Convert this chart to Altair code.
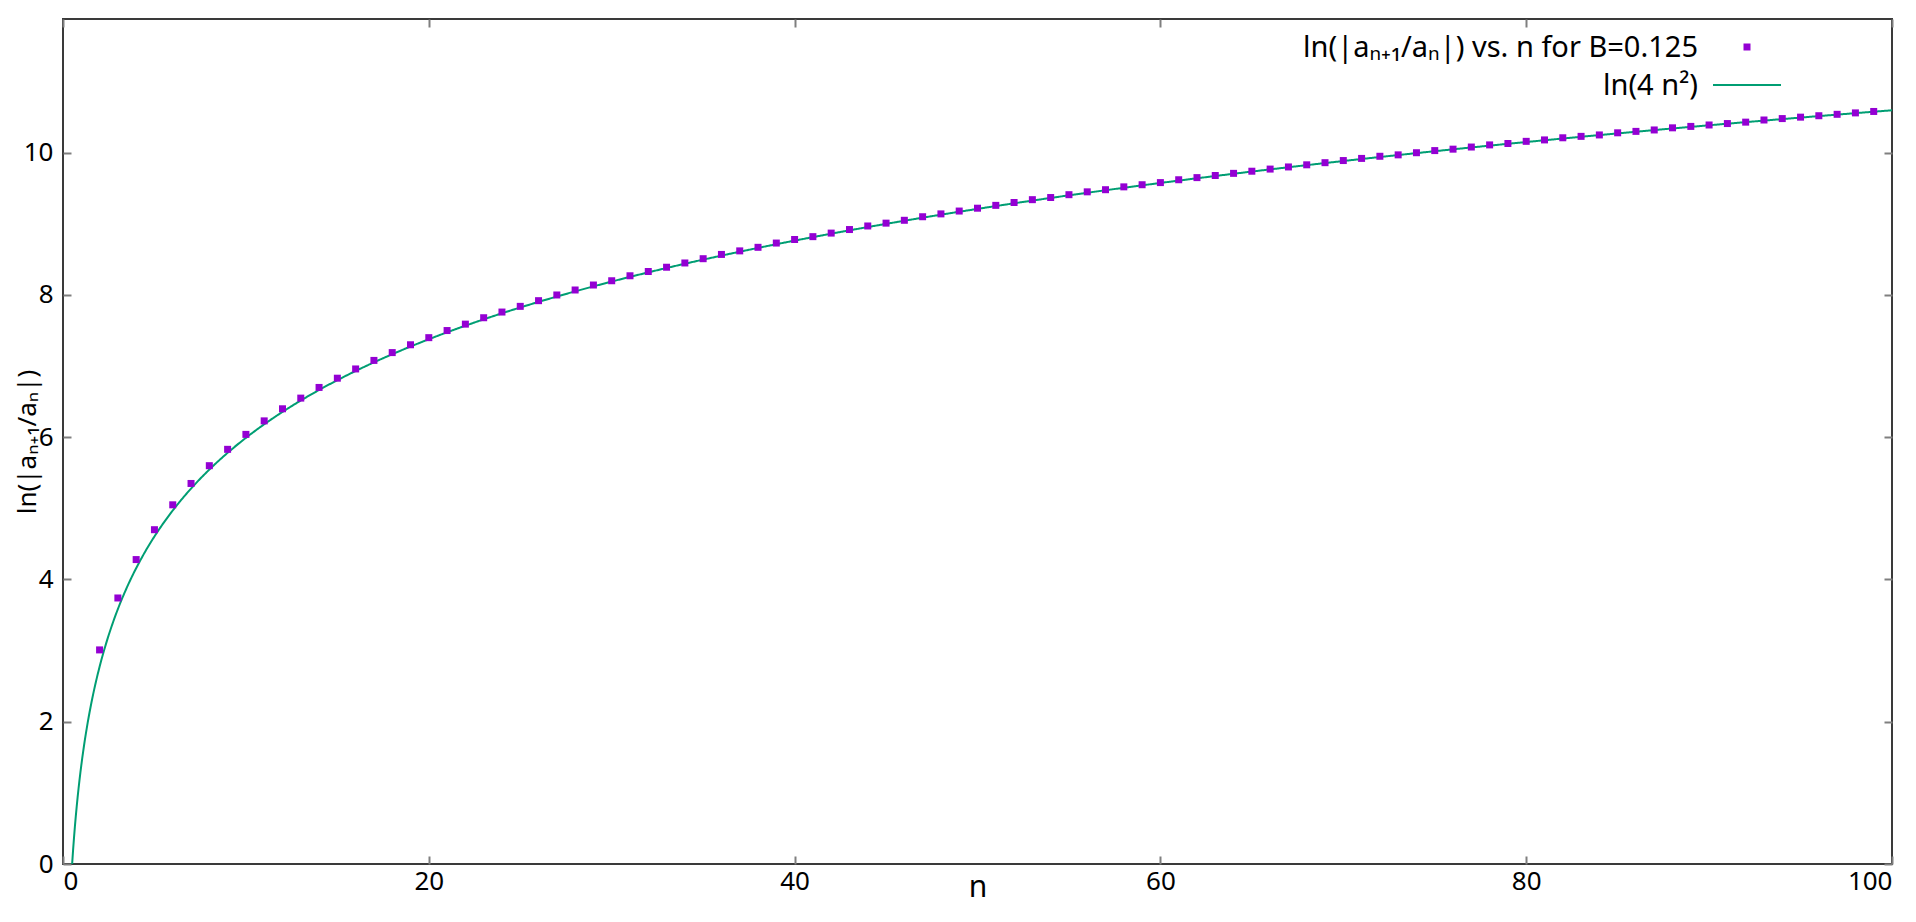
import altair as alt
import pandas as pd

# ---- data ----
n_vals = list(range(2, 100))
ratio_vals = [
    3.01, 3.74, 4.28, 4.70, 5.05, 5.35, 5.60, 5.83, 6.04, 6.23,
    6.40, 6.55, 6.70, 6.83, 6.96, 7.08, 7.19, 7.30, 7.40, 7.50,
    7.59, 7.68, 7.76, 7.84, 7.92, 8.00, 8.07, 8.14, 8.20, 8.27,
    8.33, 8.39, 8.45, 8.51, 8.57, 8.62, 8.67, 8.73, 8.78, 8.82,
    8.87, 8.92, 8.97, 9.01, 9.05, 9.10, 9.14, 9.18, 9.22, 9.26,
    9.30, 9.34, 9.37, 9.41, 9.45, 9.48, 9.52, 9.55, 9.58, 9.62,
    9.65, 9.68, 9.71, 9.74, 9.77, 9.80, 9.83, 9.86, 9.89, 9.92,
    9.95, 9.97, 10.00, 10.03, 10.05, 10.08, 10.11, 10.13, 10.16, 10.18,
    10.21, 10.23, 10.25, 10.28, 10.30, 10.32, 10.35, 10.37, 10.39, 10.41,
    10.43, 10.46, 10.48, 10.50, 10.52, 10.54, 10.56, 10.58,
]
x_ticks = [0, 20, 40, 60, 80, 100]
y_ticks = [0, 2, 4, 6, 8, 10]
legend_points = ["ln(|aₙ₊₁/aₙ|) vs. n for B=0.125"]
legend_curve = ["ln(4 n²)"]
x_title = "n"
y_title = "ln(|aₙ₊₁/aₙ|)"

FONT = "Noto Sans"
W, H = 1829, 845
PURPLE = "#9400D3"
GREEN = "#009E73"

xscale = alt.Scale(domain=[0, 100], nice=False, zero=False)
yscale = alt.Scale(domain=[0, 11.88], nice=False, zero=False)

common = dict(
    grid=False, domain=False, offset=-8, tickSize=8, tickWidth=2,
    tickColor="#7f7f7f", labelFont=FONT, labelFontSize=26,
    labelColor="black", titleFont=FONT, titleFontWeight="normal",
    titleColor="black",
)

bottom_axis = alt.Axis(orient="bottom", values=x_ticks, format="d",
                       labelPadding=4, title=x_title, titleFontSize=30,
                       titlePadding=-22, **common)
left_axis = alt.Axis(orient="left", values=y_ticks, format="d",
                     labelPadding=10, title=y_title, titleFontSize=26,
                     titleBaseline="middle", titleX=-44, **common)
top_axis = alt.Axis(orient="top", values=x_ticks, labels=False,
                    title=None, **common)
right_axis = alt.Axis(orient="right", values=y_ticks, labels=False,
                      title=None, **common)

curve = (
    alt.Chart(alt.sequence(0.3, 100.02, 0.05, as_="n"))
    .transform_calculate(y="log(4*datum.n*datum.n)")
    .mark_line(color=GREEN, strokeWidth=2, clip=True)
    .encode(x=alt.X("n:Q", scale=xscale, axis=bottom_axis),
            y=alt.Y("y:Q", scale=yscale, axis=left_axis))
)

df = pd.DataFrame({"n": n_vals, "r": ratio_vals})
points = (
    alt.Chart(df)
    .mark_point(shape="square", filled=True, size=49, color=PURPLE,
                opacity=1, clip=True)
    .encode(x=alt.X("n:Q", scale=xscale, axis=top_axis),
            y=alt.Y("r:Q", scale=yscale, axis=right_axis))
)

leg1_df = pd.DataFrame({"t": legend_points})
leg2_df = pd.DataFrame({"t": legend_curve})
leg_text1 = alt.Chart(leg1_df).mark_text(
    align="right", baseline="middle", font=FONT, fontSize=29, color="black"
).encode(text="t:N", x=alt.value(1635), y=alt.value(29))
leg_sym1 = alt.Chart(leg1_df).mark_point(
    shape="square", filled=True, size=49, color=PURPLE, opacity=1
).encode(x=alt.value(1684), y=alt.value(28))
leg_text2 = alt.Chart(leg2_df).mark_text(
    align="right", baseline="middle", font=FONT, fontSize=29, color="black"
).encode(text="t:N", x=alt.value(1635), y=alt.value(67))
leg_line2 = alt.Chart(leg2_df).mark_rule(color=GREEN, strokeWidth=2).encode(
    x=alt.value(1650), x2=alt.value(1718), y=alt.value(66)
)

chart = (
    alt.layer(curve, points, leg_text1, leg_sym1, leg_text2, leg_line2)
    .resolve_axis(x="independent", y="independent")
    .properties(
        width=W, height=H,
        autosize=alt.AutoSizeParams(type="none"),
        padding={"left": 55, "top": 11, "right": 16, "bottom": 42},
        background="white",
    )
    .configure_view(stroke="#3a3a3a", strokeWidth=2)
)

chart.save("out.html", embed_options={"renderer": "svg", "actions": False})
